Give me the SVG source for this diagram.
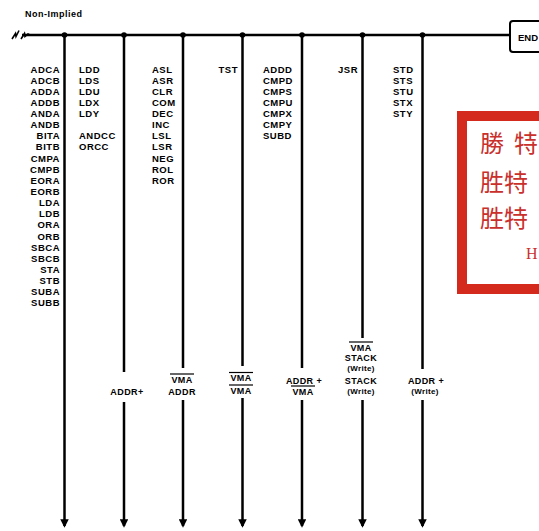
<svg xmlns="http://www.w3.org/2000/svg" width="539" height="531" viewBox="0 0 539 531">
<style>
.t{font-family:"Liberation Sans",Arial,sans-serif;font-weight:bold;font-size:9.5px;letter-spacing:0.5px;fill:#000}
.l{font-family:"Liberation Sans",Arial,sans-serif;font-weight:bold;font-size:9px;letter-spacing:0.4px;fill:#000}
.s{font-family:"Liberation Sans",Arial,sans-serif;font-weight:bold;font-size:8px;letter-spacing:0.3px;fill:#000}
.w{stroke:#000;stroke-width:2.5;fill:none}
.o{stroke:#000;stroke-width:1.2}
.cj{font-family:"Noto Sans CJK TC","Noto Sans CJK SC",serif;font-size:24px;fill:#c9302c}
</style>
<defs>
<marker id="ah" viewBox="0 0 10 10" refX="8" refY="5" markerWidth="3.4" markerHeight="3.4" orient="auto" markerUnits="strokeWidth">
<path d="M0,0 L10,5 L0,10 z" fill="#000"/>
</marker>
</defs>

<g id="title"><text class="t" x="25" y="17" style="font-size:9px">Non-Implied</text></g>

<g id="connectors">
<path class="w" d="M22,35 H510"/>
<path d="M12,39 L15.5,33.5 L16,36.5 L19,30.5 M21,39 L24.5,33.5 L25,36.5 L28,34 L30,35" stroke="#000" stroke-width="1.6" fill="none"/>
<circle cx="64.5" cy="35" r="2.8"/>
<circle cx="124" cy="35" r="2.8"/>
<circle cx="183" cy="35" r="2.8"/>
<circle cx="242.5" cy="35" r="2.8"/>
<circle cx="302" cy="35" r="2.8"/>
<circle cx="362.5" cy="35" r="2.8"/>
<circle cx="422.5" cy="35" r="2.8"/>
<path class="w" d="M64.5,35 V526" marker-end="url(#ah)"/>
<path class="w" d="M124,35 V372 M124,402 V526" marker-end="url(#ah)"/>
<path class="w" d="M183,35 V368 M183,400 V526" marker-end="url(#ah)"/>
<path class="w" d="M242.5,35 V366 M242.5,398 V526" marker-end="url(#ah)"/>
<path class="w" d="M302,35 V368 M302,400 V526" marker-end="url(#ah)"/>
<path class="w" d="M362.5,35 V338 M362.5,400 V526" marker-end="url(#ah)"/>
<path class="w" d="M422.5,35 V369 M422.5,400 V526" marker-end="url(#ah)"/>
</g>

<g id="end">
<rect x="510" y="21" width="40" height="31" rx="3" fill="#fff" stroke="#000" stroke-width="2"/>
<text class="t" x="518" y="40.5" style="font-size:9.5px;letter-spacing:0">END</text>
</g>

<g id="col1">
<text class="t" text-anchor="end" x="60" y="72.5"><tspan x="60">ADCA</tspan><tspan x="60" dy="11.14">ADCB</tspan><tspan x="60" dy="11.14">ADDA</tspan><tspan x="60" dy="11.14">ADDB</tspan><tspan x="60" dy="11.14">ANDA</tspan><tspan x="60" dy="11.14">ANDB</tspan><tspan x="60" dy="11.14">BITA</tspan><tspan x="60" dy="11.14">BITB</tspan><tspan x="60" dy="11.14">CMPA</tspan><tspan x="60" dy="11.14">CMPB</tspan><tspan x="60" dy="11.14">EORA</tspan><tspan x="60" dy="11.14">EORB</tspan><tspan x="60" dy="11.14">LDA</tspan><tspan x="60" dy="11.14">LDB</tspan><tspan x="60" dy="11.14">ORA</tspan><tspan x="60" dy="11.14">ORB</tspan><tspan x="60" dy="11.14">SBCA</tspan><tspan x="60" dy="11.14">SBCB</tspan><tspan x="60" dy="11.14">STA</tspan><tspan x="60" dy="11.14">STB</tspan><tspan x="60" dy="11.14">SUBA</tspan><tspan x="60" dy="11.14">SUBB</tspan></text>
</g>

<g id="col2">
<text class="t" x="79" y="72.5"><tspan x="79">LDD</tspan><tspan x="79" dy="11.14">LDS</tspan><tspan x="79" dy="11.14">LDU</tspan><tspan x="79" dy="11.14">LDX</tspan><tspan x="79" dy="11.14">LDY</tspan><tspan x="79" dy="22.28">ANDCC</tspan><tspan x="79" dy="11.14">ORCC</tspan></text>
<text class="l" x="127" y="395" text-anchor="middle">ADDR+</text>
</g>

<g id="col3">
<text class="t" x="152" y="72.5"><tspan x="152">ASL</tspan><tspan x="152" dy="11.14">ASR</tspan><tspan x="152" dy="11.14">CLR</tspan><tspan x="152" dy="11.14">COM</tspan><tspan x="152" dy="11.14">DEC</tspan><tspan x="152" dy="11.14">INC</tspan><tspan x="152" dy="11.14">LSL</tspan><tspan x="152" dy="11.14">LSR</tspan><tspan x="152" dy="11.14">NEG</tspan><tspan x="152" dy="11.14">ROL</tspan><tspan x="152" dy="11.14">ROR</tspan></text>
<text class="l" x="182" y="382.5" text-anchor="middle">VMA</text>
<line class="o" x1="170" y1="374" x2="194" y2="374"/>
<text class="l" x="182" y="394.5" text-anchor="middle">ADDR</text>
</g>

<g id="col4">
<text class="t" x="238" y="72.5" text-anchor="end">TST</text>
<text class="l" x="241" y="381" text-anchor="middle">VMA</text>
<line class="o" x1="229" y1="372.5" x2="253" y2="372.5"/>
<text class="l" x="241" y="393.5" text-anchor="middle">VMA</text>
<line class="o" x1="229" y1="385" x2="253" y2="385"/>
</g>

<g id="col5">
<text class="t" x="263" y="72.5"><tspan x="263">ADDD</tspan><tspan x="263" dy="11.14">CMPD</tspan><tspan x="263" dy="11.14">CMPS</tspan><tspan x="263" dy="11.14">CMPU</tspan><tspan x="263" dy="11.14">CMPX</tspan><tspan x="263" dy="11.14">CMPY</tspan><tspan x="263" dy="11.14">SUBD</tspan></text>
<text class="l" x="304" y="383.5" text-anchor="middle">ADDR +</text>
<text class="l" x="303" y="394.5" text-anchor="middle">VMA</text>
<line class="o" x1="291" y1="386" x2="315" y2="386"/>
</g>

<g id="col6">
<text class="t" x="358" y="72.5" text-anchor="end">JSR</text>
<text class="l" x="361" y="350.5" text-anchor="middle">VMA</text>
<line class="o" x1="349" y1="342" x2="373" y2="342"/>
<text class="l" x="361" y="361" text-anchor="middle">STACK</text>
<text class="s" x="361" y="371" text-anchor="middle">(Write)</text>
<text class="l" x="361" y="383.5" text-anchor="middle">STACK</text>
<text class="s" x="361" y="394" text-anchor="middle">(Write)</text>
</g>

<g id="col7">
<text class="t" x="393" y="72.5"><tspan x="393">STD</tspan><tspan x="393" dy="11.14">STS</tspan><tspan x="393" dy="11.14">STU</tspan><tspan x="393" dy="11.14">STX</tspan><tspan x="393" dy="11.14">STY</tspan></text>
<text class="l" x="426" y="383.5" text-anchor="middle">ADDR +</text>
<text class="s" x="425" y="394" text-anchor="middle">(Write)</text>
</g>

<g id="stamp">
<rect x="462" y="116" width="90" height="173" fill="#fff" stroke="#d42a1e" stroke-width="10"/>
<text class="cj" x="480" y="152">勝</text>
<text class="cj" x="514" y="152">特</text>
<text class="cj" x="480" y="191" style="font-family:'Noto Sans CJK SC',serif">胜特</text>
<text class="cj" x="480" y="227" style="font-family:'Noto Sans CJK SC',serif">胜特</text>
<text x="526" y="259" style="font-family:'Liberation Serif',serif;font-size:16px;fill:#c9302c">H</text>
</g>
</svg>
